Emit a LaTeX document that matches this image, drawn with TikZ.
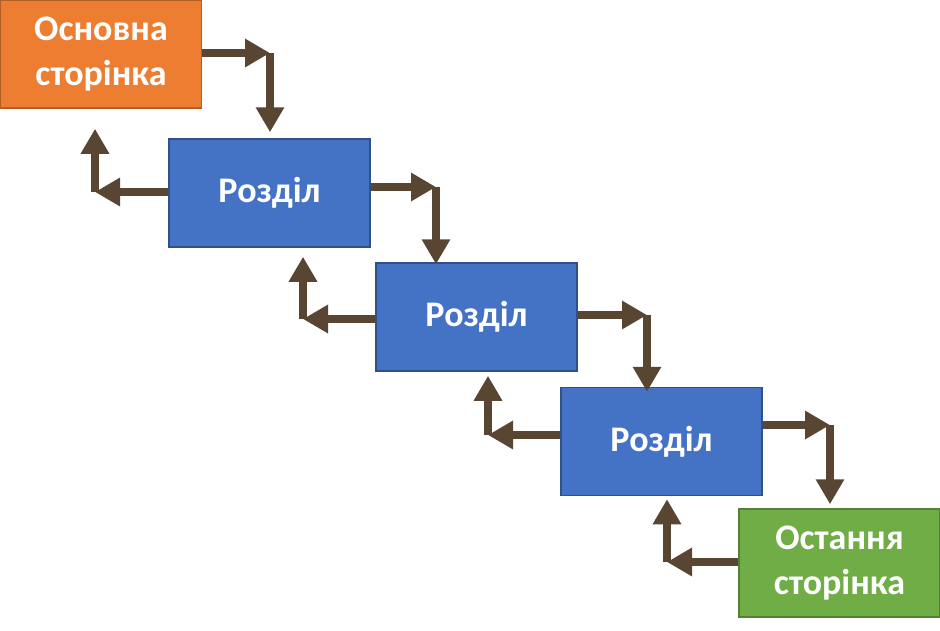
\documentclass[tikz,border=0pt]{standalone}
\usepackage{fontspec}
\setmainfont{Carlito}
\definecolor{pgorange}{RGB}{237,125,49}
\definecolor{pgblue}{RGB}{68,114,196}
\definecolor{pggreen}{RGB}{112,173,71}
\definecolor{pgbrown}{RGB}{88,70,50}
\usetikzlibrary{arrows.meta,positioning,calc}

\begin{document}
\begin{tikzpicture}[
    x=1pt, y=-1pt,
    page/.style={rectangle, minimum width=201pt, minimum height=108pt,
                 line width=1.5pt, text=white, align=center, inner sep=0pt,
                 font=\fontsize{36}{45}\selectfont\bfseries},
    link/.style={pgbrown, line width=8.5pt,
                 -{Triangle[length=25pt,width=27pt]}}
  ]
    \useasboundingbox (0,0) rectangle (940,630);

    % Pages
    \node[page, fill=pgorange, draw=pgorange!75!black] (home) at (101,54) {Основна\\сторінка};
    \node[page, fill=pgblue, draw=pgblue!70!black] (sec1) at (269.5,193) {Розділ};
    \node[page, fill=pgblue, draw=pgblue!70!black] (sec2) at (476.5,317) {Розділ};
    \node[page, fill=pgblue, draw=pgblue!70!black] (sec3) at (661.5,441.5) {Розділ};
    \node[page, fill=pggreen, draw=pggreen!75!black] (last) at (839.5,563) {Остання\\сторінка};

    % Corners
    \coordinate (f1) at (270,53);
    \coordinate (f2) at (436,187);
    \coordinate (f3) at (647,315);
    \coordinate (f4) at (830,425);
    \coordinate (b1) at (95,192);
    \coordinate (b2) at (303,319);
    \coordinate (b3) at (488,435);
    \coordinate (b4) at (667,562);

    % Forward links
    \draw[link] (home.east |- f1) -- (f1);
    \draw[link, shorten >=6pt] (f1) -- (f1 |- sec1.north);
    \draw[link] (sec1.east |- f2) -- (f2);
    \draw[link, shorten >=-2pt] (f2) -- (f2 |- sec2.north);
    \draw[link] (sec2.east |- f3) -- (f3);
    \draw[link, shorten >=-5pt] (f3) -- (f3 |- sec3.north);
    \draw[link] (sec3.east |- f4) -- (f4);
    \draw[link, shorten >=4pt] (f4) -- (f4 |- last.north);

    % Backward links
    \draw[link] (sec1.west |- b1) -- (b1);
    \draw[link, shorten >=20pt] (b1) -- (b1 |- home.south);
    \draw[link] (sec2.west |- b2) -- (b2);
    \draw[link, shorten >=9pt] (b2) -- (b2 |- sec1.south);
    \draw[link] (sec3.west |- b3) -- (b3);
    \draw[link, shorten >=4pt] (b3) -- (b3 |- sec2.south);
    \draw[link] (last.west |- b4) -- (b4);
    \draw[link, shorten >=3pt] (b4) -- (b4 |- sec3.south);
  \end{tikzpicture}
\end{document}
